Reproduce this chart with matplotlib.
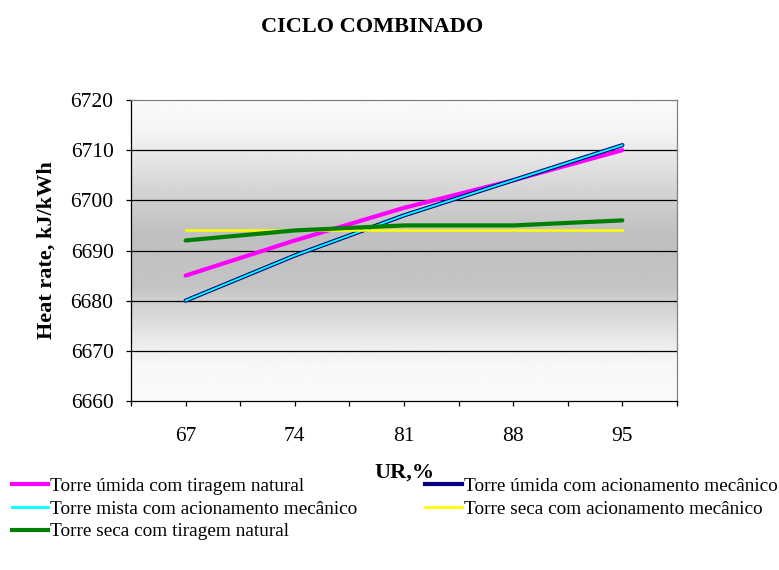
import numpy as np
import matplotlib.pyplot as plt
from matplotlib.lines import Line2D

plt.rcParams['font.family'] = ['Liberation Serif', 'DejaVu Serif']

# data
ur = ["67", "74", "81", "88", "95"]
umida_natural = [6685, 6692, 6698.5, 6704, 6710]
umida_mecanico = [6680, 6689, 6697, 6704, 6711]
mista_mecanico = [6680, 6689, 6697, 6704, 6711]
seca_mecanico = [6694, 6694, 6694, 6694, 6694]
seca_natural = [6692, 6694, 6695, 6695, 6696]

fig = plt.figure(figsize=(7.79, 5.70), dpi=100)
ax = fig.add_axes([131/779, 1 - 401/570, 546/779, 301/570])

x = np.arange(len(ur))
ax.set_xlim(-0.5, len(ur) - 0.5)
ax.set_ylim(6660, 6720)

# grey gradient background of the plot area (light - grey - light)
pos = [0.0, 0.10, 0.30, 0.45, 0.62, 0.78, 0.88, 1.0]
lev = [0.98, 0.96, 0.83, 0.75, 0.77, 0.90, 0.97, 0.98]
t = np.linspace(0, 1, 300)
g = np.interp(t, pos, lev)
ax.imshow(np.repeat(g[:, None], 2, axis=1), cmap='gray', vmin=0, vmax=1,
          extent=[-0.5, len(ur) - 0.5, 6660, 6720], aspect='auto', zorder=0)

for yv in range(6670, 6720, 10):
    ax.axhline(yv, color='black', lw=0.9, zorder=1)

ax.plot(x, umida_natural, color='#ff00ff', lw=3.0, solid_capstyle='round', zorder=2)
ax.plot(x, umida_mecanico, color='#000080', lw=3.0, solid_capstyle='round', zorder=3)
ax.plot(x, mista_mecanico, color='#00ffff', lw=1.4, solid_capstyle='round', zorder=4)
ax.plot(x, seca_mecanico, color='#ffff00', lw=1.8, zorder=5)
ax.plot(x, seca_natural, color='#008000', lw=3.0, solid_capstyle='round', zorder=6)

ax.set_yticks(range(6660, 6721, 10))
ax.set_xticks(x)
ax.set_xticklabels(ur)
ax.set_xticks(np.arange(-0.5, len(ur), 1.0), minor=True)
ax.tick_params(axis='both', which='both', direction='out', length=3.6, width=0.9,
               labelsize=15.5, colors='black')
ax.tick_params(axis='x', pad=15)
ax.tick_params(axis='y', pad=9)

for s in ['left', 'bottom']:
    ax.spines[s].set_color('black')
    ax.spines[s].set_linewidth(0.9)
for s in ['top', 'right']:
    ax.spines[s].set_color('#808080')
    ax.spines[s].set_linewidth(0.9)

fig.text(372/779, 1 - 27/570, "CICLO COMBINADO", ha='center', va='center',
         fontsize=16, fontweight='bold')
ax.set_ylabel("Heat rate, kJ/kWh", fontsize=16, fontweight='bold', labelpad=10)
ax.set_xlabel("UR,%", fontsize=16, fontweight='bold', labelpad=12)

handles = [
    Line2D([], [], color='#ff00ff', lw=3.0),
    Line2D([], [], color='#00ffff', lw=2.0),
    Line2D([], [], color='#008000', lw=3.0),
    Line2D([], [], color='#000080', lw=3.0),
    Line2D([], [], color='#ffff00', lw=2.0),
]
labels = [
    "Torre úmida com tiragem natural",
    "Torre mista com acionamento mecânico",
    "Torre seca com tiragem natural",
    "Torre úmida com acionamento mecânico",
    "Torre seca com acionamento mecânico",
]
fig.legend(handles, labels, ncol=2, loc='upper left',
           bbox_to_anchor=(4/779, 1 - 470/570), frameon=False,
           fontsize=13.9, handlelength=1.9, handletextpad=0.1,
           columnspacing=3.5, labelspacing=0.26, borderaxespad=0)

fig.savefig("out.png", dpi=100)
